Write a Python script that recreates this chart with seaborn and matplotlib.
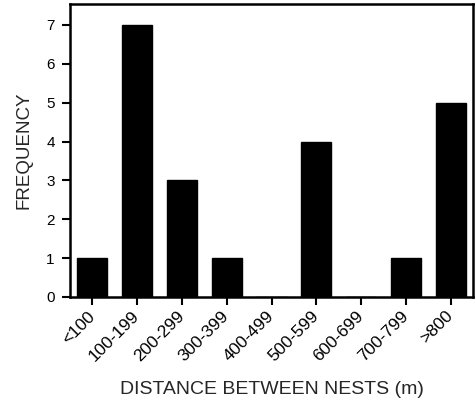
import matplotlib
matplotlib.use("Agg")
import matplotlib.pyplot as plt
import seaborn as sns
import pandas as pd

categories = ["<100", "100-199", "200-299", "300-399", "400-499",
              "500-599", "600-699", "700-799", ">800"]
frequency = [1, 7, 3, 1, 0, 4, 0, 1, 5]

df = pd.DataFrame({"distance": categories, "frequency": frequency})

sns.set_style("ticks")
plt.rcParams["font.family"] = ["Liberation Sans", "DejaVu Sans"]

fig = plt.figure(figsize=(4.75, 3.98), dpi=100)
ax = fig.add_axes([70 / 475, 101 / 398, 403 / 475, 293 / 398])

sns.barplot(data=df, x="distance", y="frequency", color="black",
            width=0.67, edgecolor="black", linewidth=1, ax=ax)

ax.set_ylim(0, 7.54)
ax.set_xlim(-0.5, 8.5)
ax.set_yticks(range(0, 8))
for s in ax.spines.values():
    s.set_linewidth(1.8)
    s.set_color("black")
ax.tick_params(axis="both", direction="out", length=6, width=1.5,
               colors="black")
ax.tick_params(axis="y", labelsize=11, pad=5)
ax.tick_params(axis="x", labelsize=12.5, pad=6)
plt.setp(ax.get_xticklabels(), rotation=45, ha="right", va="center",
         rotation_mode="anchor")
ax.set_xlabel("DISTANCE BETWEEN NESTS (m)", fontsize=14, labelpad=12)
ax.set_ylabel("FREQUENCY", fontsize=13.5, labelpad=10)

fig.savefig("out.png", dpi=100)
